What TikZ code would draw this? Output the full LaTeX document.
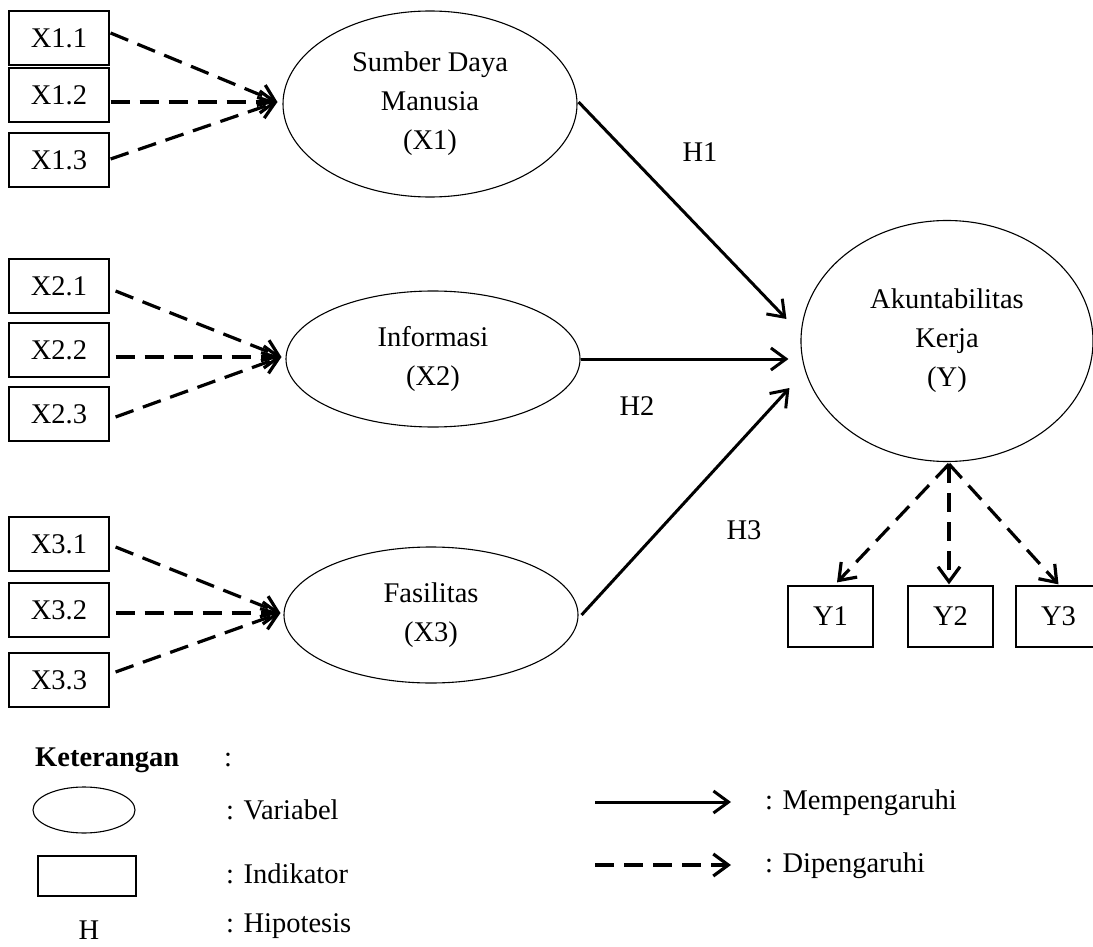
\documentclass[tikz,border=0pt]{standalone}
\usepackage{fontspec}
\setmainfont{Liberation Serif}
\usetikzlibrary{shapes.geometric,arrows.meta,calc}
\begin{document}
\begin{tikzpicture}[x=1pt,y=-1pt,
  every node/.style={font=\fontsize{28.5}{39}\selectfont},
  ind/.style={draw, line width=1.2pt, minimum width=100pt, minimum height=54pt, inner sep=0pt},
  yind/.style={draw, line width=1.2pt, minimum width=85pt, minimum height=61pt, inner sep=0pt},
  var/.style={draw, ellipse, line width=1.1pt, inner sep=0pt, align=center},
  txt/.style={inner sep=0pt},
  dasharrow/.style={line width=3.2pt, dash pattern=on 19pt off 10pt, -{Straight Barb[length=15pt,width=22pt]}},
  solidarrow/.style={line width=3pt, -{Straight Barb[length=15pt,width=22pt]}},
]
\useasboundingbox (0,0) rectangle (1093,947);
\clip (0,0) rectangle (1093,947);

% indicator boxes
\node[ind] (x11) at (59,38) {X1.1};
\node[ind] (x12) at (59,95) {X1.2};
\node[ind] (x13) at (59,160) {X1.3};
\node[ind] (x21) at (59,286) {X2.1};
\node[ind] (x22) at (59,350) {X2.2};
\node[ind] (x23) at (59,414) {X2.3};
\node[ind] (x31) at (59,544) {X3.1};
\node[ind] (x32) at (59,610) {X3.2};
\node[ind] (x33) at (59,680) {X3.3};

% variables
\node[var, minimum width=294pt, minimum height=186pt] (e1) at (430,104) {Sumber Daya\\Manusia\\(X1)};
\node[var, minimum width=294pt, minimum height=136pt] (e2) at (433,359) {Informasi\\(X2)};
\node[var, minimum width=294pt, minimum height=136pt] (e3) at (431,615) {Fasilitas\\(X3)};
\node[var, minimum width=292pt, minimum height=241pt] (ey) at (947,341) {Akuntabilitas\\Kerja\\(Y)};

% Y indicators
\node[yind] (y1) at (830.5,616.5) {Y1};
\node[yind] (y2) at (950.5,616.5) {Y2};
\node[yind] (y3) at (1058.5,616.5) {Y3};

% dashed arrows to X1
\draw[dasharrow] ($(x11.east)+(1,-5)$) -- ($(e1.west)+(-5,-2)$);
\draw[dasharrow] ($(x12.east)+(1,7)$) -- ($(e1.west)+(-5,-2)$);
\draw[dasharrow] ($(x13.east)+(1,-1)$) -- ($(e1.west)+(-5,-2)$);
% to X2
\draw[dasharrow] ($(x21.east)+(6,5)$) -- ($(e2.west)+(-4,-2)$);
\draw[dasharrow] ($(x22.east)+(6,7)$) -- ($(e2.west)+(-4,-2)$);
\draw[dasharrow] ($(x23.east)+(6,3)$) -- ($(e2.west)+(-4,-2)$);
% to X3
\draw[dasharrow] ($(x31.east)+(6,3)$) -- ($(e3.west)+(-3,-2)$);
\draw[dasharrow] ($(x32.east)+(6,3)$) -- ($(e3.west)+(-3,-2)$);
\draw[dasharrow] ($(x33.east)+(6,-8)$) -- ($(e3.west)+(-3,-2)$);

% hypotheses
\draw[solidarrow] ($(e1.east)+(1,-2)$) -- ($(ey.west)+(-14,-22)$);
\draw[solidarrow] (e2.east) -- ($(ey.west)+(-12,18)$);
\draw[solidarrow] ($(e3.east)+(3,0)$) -- ($(ey.west)+(-11,47)$);
\node[txt] (h1) at (700,152) {H1};
\node[txt] (h2) at (637,406) {H2};
\node[txt] (h3) at (744,530) {H3};

% Y to indicators
\draw[dasharrow] ($(ey.south)+(2,2)$) -- ($(y1.north)+(6.5,-3)$);
\draw[dasharrow] ($(ey.south)+(2,2)$) -- ($(y2.north)+(-1.5,-1)$);
\draw[dasharrow] ($(ey.south)+(2,2)$) -- ($(y3.north)+(0,-1)$);

% legend
\node[txt, anchor=west, font=\fontsize{28.5}{39}\selectfont\bfseries] (ket) at (35,760) {Keterangan};
\node[txt, anchor=west] (ketc) at (224,760) {:};
\node[draw, ellipse, line width=1.1pt, minimum width=102pt, minimum height=46pt, inner sep=0pt] (lv) at (84,810) {};
\node[txt, anchor=west] (lvt) at (226,810) {: Variabel};
\node[draw, line width=1.2pt, minimum width=98pt, minimum height=40pt, inner sep=0pt] (li) at (87,876) {};
\node[txt, anchor=west] (lit) at (226,874) {: Indikator};
\node[txt] (lh) at (89,930) {H};
\node[txt, anchor=west] (lht) at (226,926) {: Hipotesis};

\coordinate (ms) at (595,802);
\coordinate (me) at (731,802);
\draw[solidarrow] (ms) -- (me);
\node[txt, anchor=west] (mt) at (765,803) {: Mempengaruhi};
\coordinate (ds) at (595,865);
\coordinate (de) at (731,865);
\draw[dasharrow] (ds) -- (de);
\node[txt, anchor=west] (dt) at (765,866) {: Dipengaruhi};
\end{tikzpicture}
\end{document}
